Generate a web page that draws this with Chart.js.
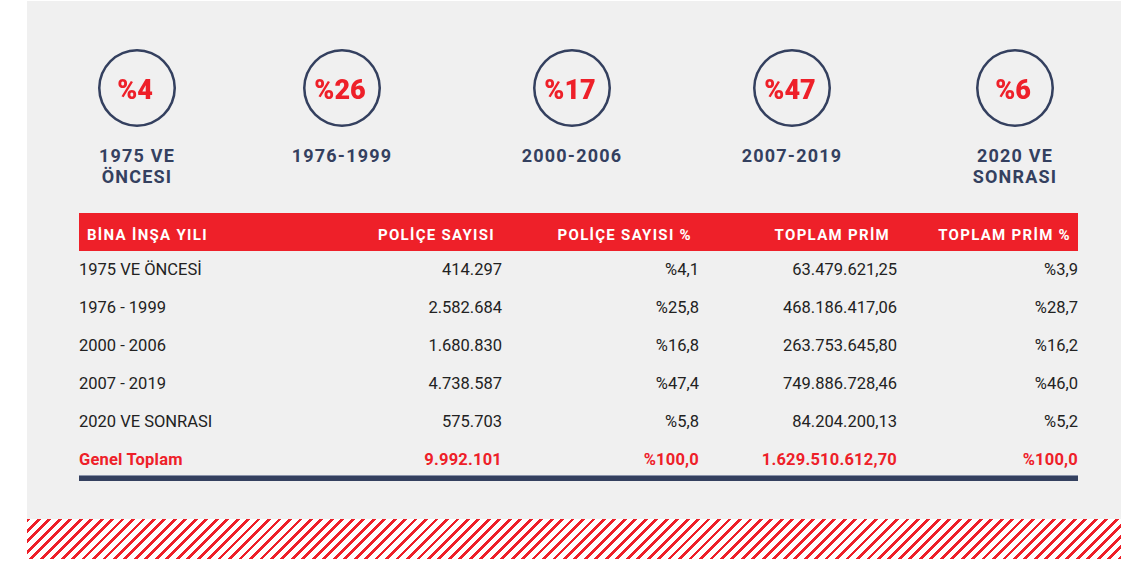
<!DOCTYPE html>
<html><head><meta charset="utf-8">
<script src="https://cdn.jsdelivr.net/npm/chart.js@4.4.1/dist/chart.umd.min.js"></script>
<style>
html,body{margin:0;padding:0;background:#fff;}
#root{position:relative;width:1138px;height:563px;overflow:hidden;font-family:Roboto,"Noto Sans",sans-serif;}
#panel{position:absolute;left:27px;top:1px;width:1094px;height:518px;background:#f0f0f0;}
#hatch{position:absolute;left:27px;top:519px;width:1094px;height:40px;
 background:repeating-linear-gradient(-45deg,#ee2029 0px,#ee2029 2.7px,#ffffff 2.7px,#ffffff 7.4px);}
.ring{position:absolute;width:80px;height:80px;}
.clabel{position:absolute;width:200px;text-align:center;font-weight:700;font-size:18px;letter-spacing:1.2px;line-height:21px;color:#34405f;}
.cell{position:absolute;height:38px;line-height:38px;white-space:nowrap;font-size:16.5px;color:#222;}
.hdr{position:absolute;left:79px;top:213px;width:999px;height:38px;background:#ee2029;}
.hcell{position:absolute;height:38px;line-height:44px;white-space:nowrap;font-size:15px;font-weight:700;color:#fff;letter-spacing:1.3px;}
.tot{color:#ee2029;font-weight:700;letter-spacing:0.2px;}
#bar{position:absolute;left:79px;top:476px;width:999px;height:5px;background:#34405f;}
#barline{position:absolute;left:79px;top:475px;width:999px;height:1px;background:#8a93aa;}
</style></head>
<body><div id="root">
<div id="panel"></div>
<div id="hatch"></div>
<div class="hdr"></div>
<div id="barline"></div>
<div id="bar"></div>
</div>
<script>
// ---- data ----
const circlePercents = [4, 26, 17, 47, 6];
const circleLabels = [['1975 VE','ÖNCESI'],['1976-1999'],['2000-2006'],['2007-2019'],['2020 VE','SONRASI']];
const headers = ['BİNA İNŞA YILI','POLİÇE SAYISI','POLİÇE SAYISI %','TOPLAM PRİM','TOPLAM PRİM %'];
const periods = ['1975 VE ÖNCESİ','1976 - 1999','2000 - 2006','2007 - 2019','2020 VE SONRASI'];
const policyCounts = [414297, 2582684, 1680830, 4738587, 575703];
const policyPct = [4.1, 25.8, 16.8, 47.4, 5.8];
const premiums = [63479621.25, 468186417.06, 263753645.80, 749886728.46, 84204200.13];
const premiumPct = [3.9, 28.7, 16.2, 46.0, 5.2];
const totalLabel = 'Genel Toplam';
const totalPolicies = 9992101;
const totalPolicyPct = 100.0;
const totalPremium = 1629510612.70;
const totalPremiumPct = 100.0;

// ---- layout ----
const circleCenters = [137, 342, 572, 792, 1015];
const circleCY = 88;
const colEdges = [79, 306, 502, 699, 897, 1078];
const rowTops = [251, 289, 327, 365, 403];
const totalTop = 441;

function groupInt(n){return String(n).replace(/\B(?=(\d{3})+(?!\d))/g,'.');}
function fmtInt(n){return groupInt(Math.round(n));}
function fmtDec(n){const s=n.toFixed(2).split('.');return groupInt(s[0])+','+s[1];}
function fmtPct(n){return '%'+n.toFixed(1).replace('.',',');}

const root = document.getElementById('root');
const centerText = {
  id:'centerText',
  afterDraw(chart, args, opts){
    const {ctx} = chart; const a = chart.chartArea;
    ctx.save();
    ctx.font = '900 27px Roboto';
    ctx.fillStyle = '#ee2029';
    ctx.textAlign = 'center';
    ctx.textBaseline = 'alphabetic';
    ctx.fillText(opts.text, (a.left+a.right)/2 - 2, (a.top+a.bottom)/2 + 11);
    ctx.restore();
  }
};

circlePercents.forEach((p,i)=>{
  const c = document.createElement('canvas');
  c.className='ring'; c.width=80; c.height=80;
  c.style.left=(circleCenters[i]-40)+'px'; c.style.top=(circleCY-40)+'px';
  root.appendChild(c);
  new Chart(c, {
    type:'doughnut',
    data:{labels:[circleLabels[i].join(' ')], datasets:[{data:[100], backgroundColor:'#34405f', borderWidth:0}]},
    options:{responsive:false, animation:false, cutout:'93.5%', layout:{padding:1},
      events:[], plugins:{legend:{display:false}, tooltip:{enabled:false}, centerText:{text:'%'+p}}},
    plugins:[centerText]
  });
  const l = document.createElement('div');
  l.className='clabel';
  l.style.left=(circleCenters[i]-100)+'px'; l.style.top='145px';
  l.innerHTML = circleLabels[i].join('<br>');
  root.appendChild(l);
});

function addCell(cls, text, col, top, isHdr){
  const d = document.createElement('div');
  d.className = cls; d.textContent = text;
  const left = colEdges[col], right = colEdges[col+1];
  d.style.top = top+'px';
  if(col===0){ d.style.left = (left + (isHdr?8:0))+'px'; }
  else { d.style.right = (1138 - right + (isHdr?7:0))+'px'; }
  root.appendChild(d);
}
headers.forEach((h,j)=>addCell('hcell', h, j, 213, true));
periods.forEach((p,i)=>{
  const vals=[p, fmtInt(policyCounts[i]), fmtPct(policyPct[i]), fmtDec(premiums[i]), fmtPct(premiumPct[i])];
  vals.forEach((v,j)=>addCell('cell', v, j, rowTops[i], false));
});
[totalLabel, fmtInt(totalPolicies), fmtPct(totalPolicyPct), fmtDec(totalPremium), fmtPct(totalPremiumPct)]
  .forEach((v,j)=>addCell('cell tot', v, j, totalTop, false));
</script>
</body></html>
